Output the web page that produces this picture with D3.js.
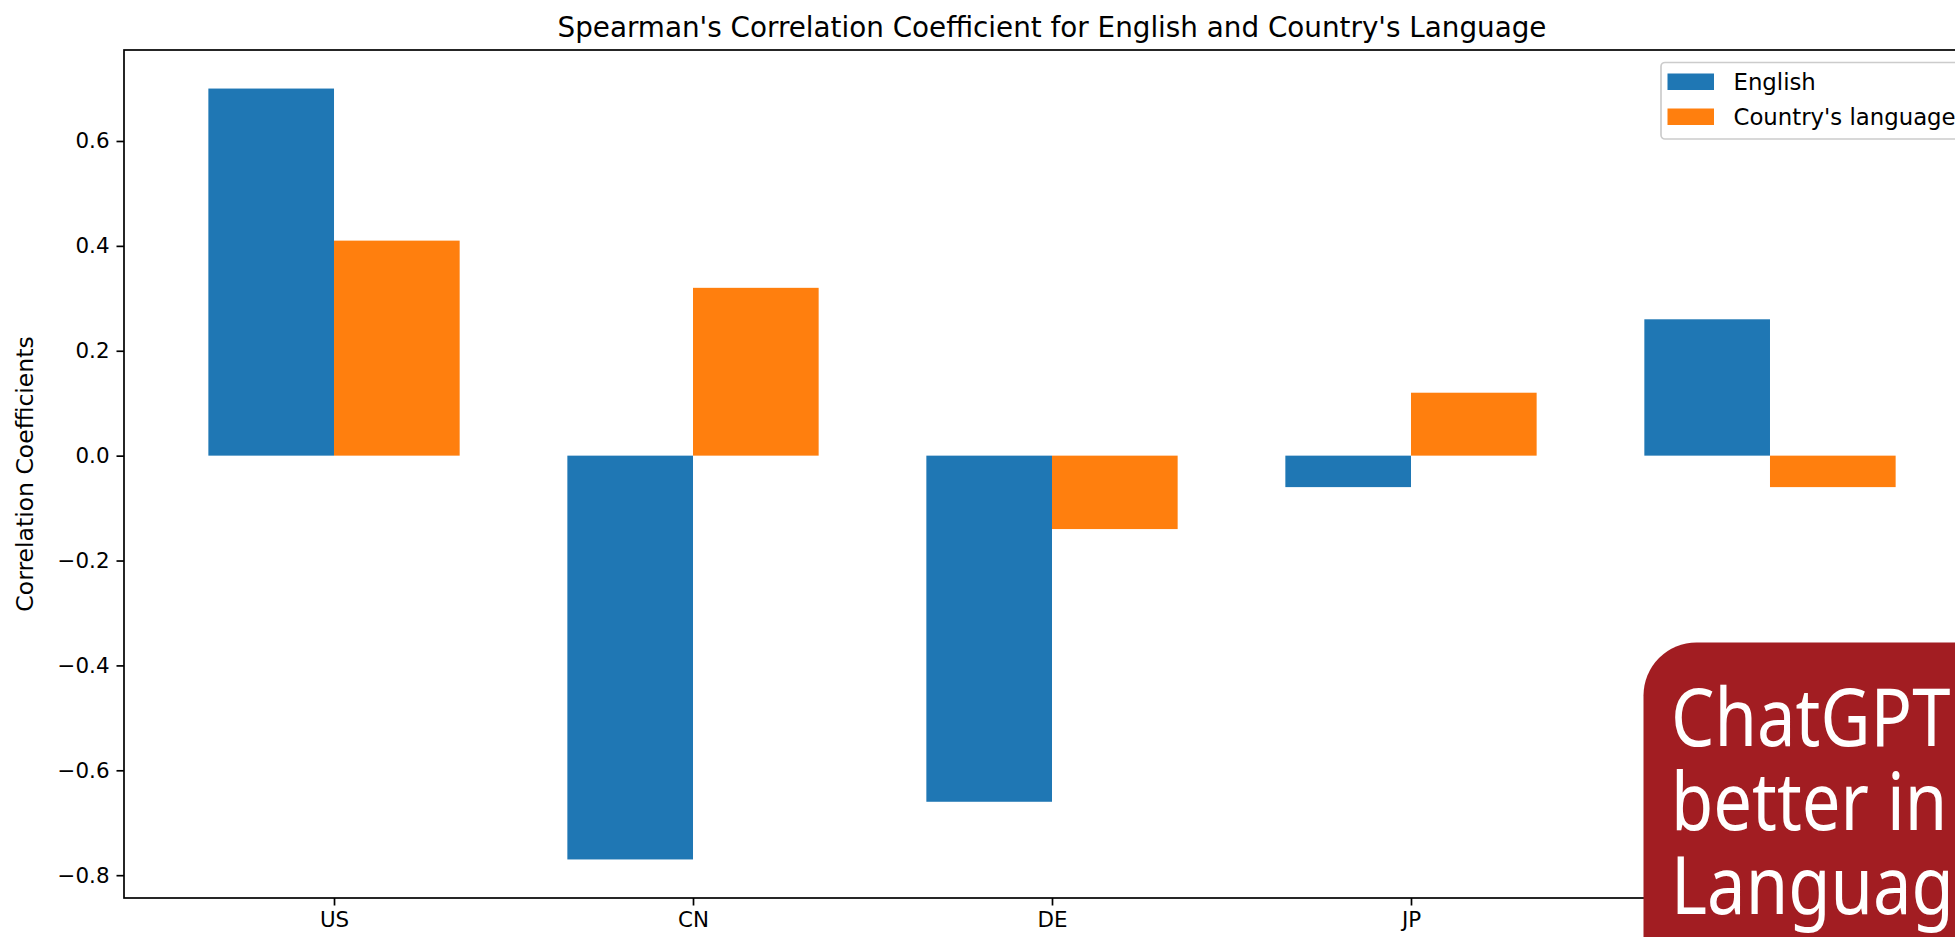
<!DOCTYPE html>
<html>
<head>
<meta charset="utf-8">
<script src="https://cdn.jsdelivr.net/npm/d3@7"></script>
<style>
  body { margin: 0; background: #fff; overflow: hidden; }
  svg { display: block; font-family: "DejaVu Sans", sans-serif; }
</style>
</head>
<body>
<svg width="1955" height="937"></svg>
<script>
// data
const countries = ["US", "CN", "DE", "JP", "FR"];
const english = [0.70, -0.77, -0.66, -0.06, 0.26];
const countryLang = [0.41, 0.32, -0.14, 0.12, -0.06];
const seriesNames = ["English", "Country's language"];
const yTicks = [-0.8, -0.6, -0.4, -0.2, 0.0, 0.2, 0.4, 0.6];
const noteLines = ["ChatGPT is", "better in English", "Language"];

const colors = ["#1f77b4", "#ff7f0e"];
const barW = 0.35;

// plot area (right edge runs past the window, like the screenshot)
let plotLeft = 124, plotRight = 1980, plotTop = 50, plotBottom = 898;

let svg = d3.select("svg");

// scales like matplotlib default margins
let x = d3.scaleLinear().domain([-0.585, 4.585]).range([plotLeft, plotRight]);
let y = d3.scaleLinear().domain([-0.8435, 0.7735]).range([plotBottom, plotTop]);

// bars: English left of tick, country's language right of tick
let series = [english, countryLang];
series.forEach((vals, s) => {
  svg.append("g").selectAll("rect")
    .data(vals)
    .enter()
    .append("rect")
    .attr("x", (d, i) => s == 0 ? x(i - barW) : x(i))
    .attr("width", x(barW) - x(0))
    .attr("y", d => y(Math.max(d, 0)))
    .attr("height", d => Math.abs(y(d) - y(0)))
    .attr("fill", colors[s]);
});

// axes
let fmt = v => d3.format(".1f")(v).replace("-", "\u2212");
let yAxis = d3.axisLeft(y).tickValues(yTicks).tickFormat(fmt).tickSize(7.5).tickPadding(7);
let gy = svg.append("g").attr("transform", `translate(${plotLeft},0)`).call(yAxis);

let xAxis = d3.axisBottom(x).tickValues(d3.range(countries.length))
  .tickFormat(i => countries[i]).tickSize(7.5).tickPadding(6);
let gx = svg.append("g").attr("transform", `translate(0,${plotBottom})`).call(xAxis);

[gx, gy].forEach(g => {
  g.select(".domain").remove();
  g.selectAll(".tick line").attr("stroke", "#000").attr("stroke-width", 1.7);
  g.selectAll(".tick text").attr("fill", "#000").style("font-size", "21.4px")
    .style("font-family", "DejaVu Sans");
});

// frame
svg.append("rect")
  .attr("x", plotLeft).attr("y", plotTop)
  .attr("width", plotRight - plotLeft).attr("height", plotBottom - plotTop)
  .attr("fill", "none").attr("stroke", "#000").attr("stroke-width", 1.7);

// title and label
svg.append("text")
  .attr("x", (plotLeft + plotRight) / 2).attr("y", 37)
  .attr("text-anchor", "middle")
  .style("font-size", "27.8px")
  .text("Spearman's Correlation Coefficient for English and Country's Language");

svg.append("text")
  .attr("transform", `translate(33,${(plotTop + plotBottom) / 2}) rotate(-90)`)
  .attr("text-anchor", "middle")
  .style("font-size", "23.5px")
  .text("Correlation Coefficients");

// legend
let lg = svg.append("g");
lg.append("rect")
  .attr("x", 1661).attr("y", 62.5).attr("width", 320).attr("height", 76.5)
  .attr("rx", 4).attr("fill", "#fff").attr("fill-opacity", 0.8)
  .attr("stroke", "#cccccc").attr("stroke-width", 1.7);
seriesNames.forEach((name, i) => {
  lg.append("rect")
    .attr("x", 1667.5).attr("y", 73.5 + i * 35)
    .attr("width", 46.5).attr("height", 16.5)
    .attr("fill", colors[i]);
  lg.append("text")
    .attr("x", 1733.5).attr("y", 90 + i * 35)
    .style("font-size", "22.8px").attr("fill", "#000")
    .text(name);
});

// red note box over the lower right
let note = svg.append("g");
note.append("rect")
  .attr("x", 1643.5).attr("y", 642.5).attr("width", 500).attr("height", 400)
  .attr("rx", 53).attr("fill", "#a21d22");
note.append("g")
  .attr("transform", "translate(1671,0) scale(0.86,1)")
  .selectAll("text")
  .data(noteLines)
  .enter()
  .append("text")
  .attr("x", 0)
  .attr("y", (d, i) => 746.5 + i * 84)
  .attr("fill", "#fff")
  .style("font-family", "Noto Sans")
  .style("font-size", "80px")
  .text(d => d);
</script>
</body>
</html>
